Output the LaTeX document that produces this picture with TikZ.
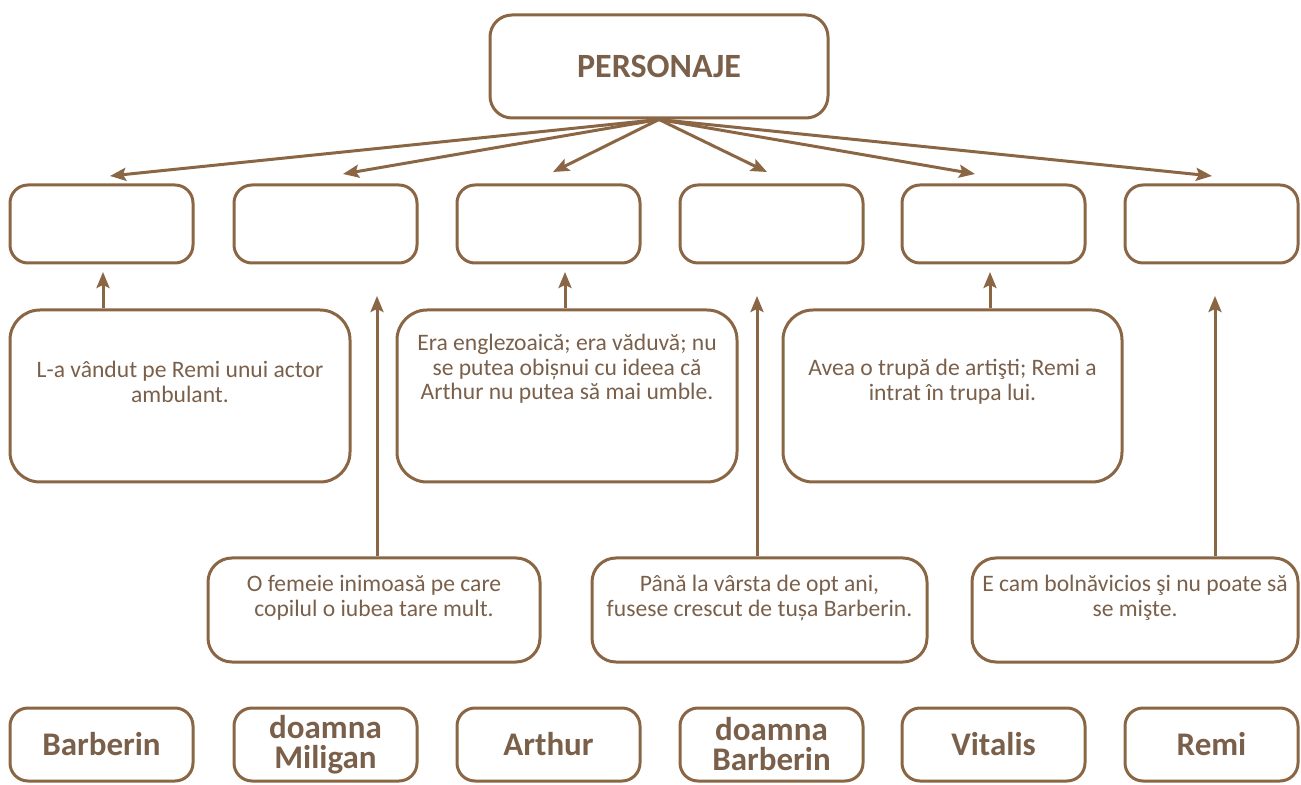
\documentclass[tikz,border=0pt]{standalone}
\usepackage{fontspec}
\setmainfont{Carlito}
\usetikzlibrary{arrows.meta}

\definecolor{brun}{RGB}{139,102,68}
\definecolor{bruntext}{RGB}{122,96,74}

\begin{document}
\begin{tikzpicture}[x=0.5pt,y=-0.5pt,
    every node/.style={text=bruntext},
    casuta/.style={draw=brun,line width=1.5pt,rounded corners=9pt,inner sep=0pt},
    descriere/.style={align=center,font=\fontsize{11.8}{12.3}\selectfont},
    eticheta/.style={casuta,minimum width=91.5pt,minimum height=36.5pt,align=center,font=\bfseries\fontsize{16.5}{15}\selectfont},
    sageata/.style={draw=brun,line width=1.5pt,-{Stealth[length=8pt,width=6.5pt,inset=1.5pt]}}]
                \useasboundingbox (0,0) rectangle (1301,785);

                \node[casuta,rounded corners=11pt,minimum width=169pt,minimum height=51.5pt,font=\bfseries\fontsize{17}{18}\selectfont] (personaje) at (659,66.5) {PERSONAJE};

                \node[casuta,minimum width=91.5pt,minimum height=39pt] (gol1) at (101.5,224) {};
                \node[casuta,minimum width=91.5pt,minimum height=39pt] (gol2) at (325.5,224) {};
                \node[casuta,minimum width=91.5pt,minimum height=39pt] (gol3) at (548.5,224) {};
                \node[casuta,minimum width=91.5pt,minimum height=39pt] (gol4) at (771.5,224) {};
                \node[casuta,minimum width=91.5pt,minimum height=39pt] (gol5) at (993.5,224) {};
                \node[casuta,minimum width=86.5pt,minimum height=39pt] (gol6) at (1211.5,224) {};

                \coordinate (varf1) at (110,176);
                \coordinate (varf2) at (343,174);
                \coordinate (varf3) at (553,172);
                \coordinate (varf4) at (767,172);
                \coordinate (varf5) at (975,174);
                \coordinate (varf6) at (1212,176);

                \draw[sageata] (personaje.south) to (varf1);
                \draw[sageata] (personaje.south) to (varf2);
                \draw[sageata] (personaje.south) to (varf3);
                \draw[sageata] (personaje.south) to (varf4);
                \draw[sageata] (personaje.south) to (varf5);
                \draw[sageata] (personaje.south) to (varf6);

                \node[casuta,rounded corners=15pt,minimum width=170pt,minimum height=86pt] (vandut) at (180,396) {};
                \node[casuta,rounded corners=15pt,minimum width=170pt,minimum height=86pt] (englez) at (567,396) {};
                \node[casuta,rounded corners=15pt,minimum width=169.5pt,minimum height=86pt] (trupa) at (952.5,396) {};
                \node[descriere] (vandutt) at (180,382) {L-a vândut pe Remi unui actor\\ambulant.};
                \node[descriere] (englezt) at (567,369) {Era englezoaică; era văduvă; nu\\se putea obișnui cu ideea că\\Arthur nu putea să mai umble.};
                \node[descriere] (trupat) at (952.5,382) {Avea o trupă de artişti; Remi a\\intrat în trupa lui.};

                \node[casuta,rounded corners=12pt,minimum width=166pt,minimum height=52pt] (femeie) at (374,610) {};
                \node[casuta,rounded corners=12pt,minimum width=167.5pt,minimum height=52pt] (pana) at (759.5,610) {};
                \node[casuta,rounded corners=12pt,minimum width=163pt,minimum height=52pt] (bolnav) at (1135,610) {};
                \node[descriere] (femeiet) at (374,598) {O femeie inimoasă pe care\\copilul o iubea tare mult.};
                \node[descriere] (panat) at (759.5,598) {Până la vârsta de opt ani,\\fusese crescut de tușa Barberin.};
                \node[descriere] (bolnavt) at (1135,598) {E cam bolnăvicios şi nu poate să\\se mişte.};

                \coordinate (sus1) at (103,272);
                \coordinate (sus2) at (377,296);
                \coordinate (sus3) at (565,272);
                \coordinate (sus4) at (757,296);
                \coordinate (sus5) at (990,272);
                \coordinate (sus6) at (1215,296);

                \draw[sageata] (sus1 |- vandut.north) to (sus1);
                \draw[sageata] (sus2 |- femeie.north) to (sus2);
                \draw[sageata] (sus3 |- englez.north) to (sus3);
                \draw[sageata] (sus4 |- pana.north) to (sus4);
                \draw[sageata] (sus5 |- trupa.north) to (sus5);
                \draw[sageata] (sus6 |- bolnav.north) to (sus6);

                \node[eticheta] (barberin) at (101.5,744.5) {Barberin};
                \node[eticheta] (miligan) at (325.5,744.5) {doamna\\Miligan};
                \node[eticheta] (arthur) at (548.5,744.5) {Arthur};
                \node[eticheta] (doamnab) at (771.5,744.5) {doamna\\Barberin};
                \node[eticheta] (vitalis) at (993.5,744.5) {Vitalis};
                \node[eticheta,minimum width=86.5pt] (remi) at (1211.5,744.5) {Remi};
            \end{tikzpicture}
\end{document}
